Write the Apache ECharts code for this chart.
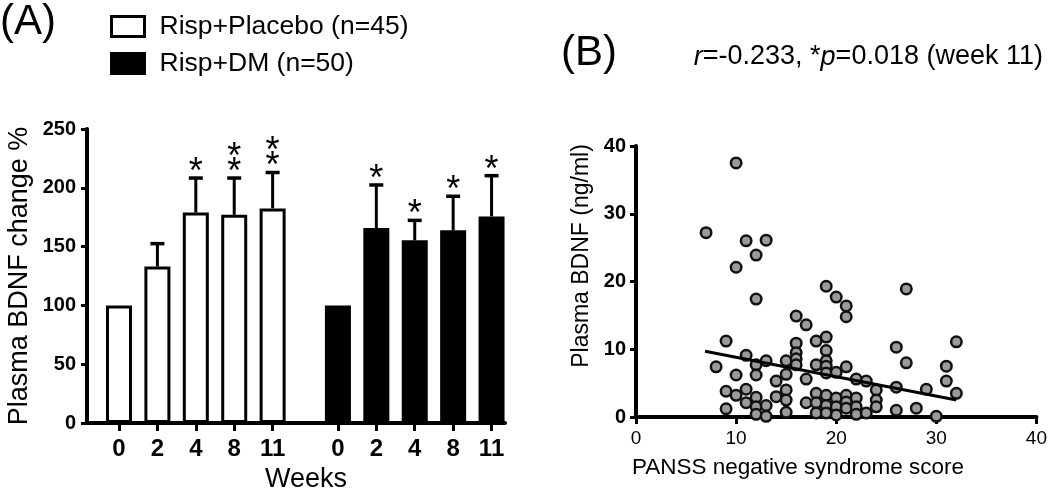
<!DOCTYPE html>
<html>
<head>
<meta charset="utf-8">
<script src="https://cdn.jsdelivr.net/npm/echarts@6/dist/echarts.min.js"></script>
<style>html,body{margin:0;padding:0;background:#fff}#c{width:1050px;height:495px}</style>
</head>
<body>
<div id="c"></div>
<script>
// ---- Panel A data ----
const weekLabels = ['0', '2', '4', '8', '11'];
const placeboMean = [100, 133, 179, 177, 182.5];
const placeboErr = [0, 19.5, 29.3, 31.3, 30.5];
const placeboStars = [0, 0, 1, 2, 2];
const dmMean = [100, 165.8, 155.3, 163.8, 175.7];
const dmErr = [0, 36.6, 17, 29, 34.6];
const dmStars = [0, 1, 1, 1, 1];

// ---- Panel B data: [PANSS negative score, plasma BDNF ng/ml] ----
const panssScore = [10, 7, 11, 13, 12, 10, 12, 19, 20, 21, 21, 27, 16, 17,
  9, 8, 9, 9, 10, 10, 11, 11, 11, 12, 12, 12, 12, 12, 13, 13, 13, 14, 14,
  15, 15, 15, 15, 15, 16, 16, 16, 16, 17, 17, 18, 18, 18, 18, 18,
  19, 19, 19, 19, 19, 19, 19, 19, 20, 20, 20, 20, 21, 21, 21, 21,
  22, 22, 22, 22, 23, 23, 24, 24, 24, 26, 26, 26, 27, 28, 29, 30, 31, 31, 32, 32];
const bdnf = [37.5, 27.2, 26, 26.1, 23.9, 22.1, 17.4, 19.3, 17.7, 16.4, 14.8, 18.9, 14.9, 13.6,
  11.2, 7.4, 3.8, 1.2, 6.2, 3.2, 9.1, 4.1, 2.1, 7.7, 6.2, 2.9, 1.5, 0.4, 8.3, 1.7, 0.1, 5.3, 3.0,
  8.3, 6.3, 4.0, 2.5, 0.7, 10.9, 9.5, 8.6, 7.7, 5.6, 2.1, 11.2, 7.7, 3.5, 2.1, 0.6,
  11.8, 9.8, 8.3, 7.5, 6.5, 3.2, 1.7, 0.6, 6.6, 2.8, 1.5, 0.3, 7.4, 3.2, 2.2, 1.3,
  5.6, 2.8, 1.5, 0.4, 5.3, 0.6, 4.0, 2.5, 1.5, 10.3, 4.4, 1.0, 8.0, 1.3, 4.1, 0.1, 7.5, 5.3, 11.1, 3.5];
const fitLine = [[6.9, 9.7], [32, 2.5]];
const annotationR = '-0.233';
const annotationP = '0.018';

// ---- layout ----
const FONT = 'Liberation Sans, Arial, sans-serif';
const groupOffset = 5.7;
const posA = weekLabels.map((_, i) => i);
const posB = weekLabels.map((_, i) => i + groupOffset);
const allPos = posA.concat(posB);
const allLabels = weekLabels.concat(weekLabels);

const placeboBars = posA.map((x, i) => [x, placeboMean[i]]);
const dmBars = posB.map((x, i) => [x, dmMean[i]]);
const errData = posA.map((x, i) => [x, placeboMean[i], placeboErr[i], placeboStars[i]])
  .concat(posB.map((x, i) => [x, dmMean[i], dmErr[i], dmStars[i]]));
const scatterData = panssScore.map((x, i) => [x, bdnf[i]]);

function renderErr(params, api) {
  const x = api.value(0), m = api.value(1), e = api.value(2), n = api.value(3);
  const top = api.coord([x, m + e]);
  const base = api.coord([x, m]);
  const children = [];
  if (e > 0) {
    children.push({type: 'line', shape: {x1: base[0], y1: base[1], x2: top[0], y2: top[1]},
      style: {stroke: '#000', lineWidth: 3}});
    children.push({type: 'line', shape: {x1: top[0] - 7, y1: top[1], x2: top[0] + 7, y2: top[1]},
      style: {stroke: '#000', lineWidth: 3.5}});
  }
  for (let k = 0; k < n; k++) {
    const cy = top[1] - 14 - k * 15;
    children.push({type: 'text', style: {text: '*', x: top[0], y: cy + 9, textAlign: 'center',
      textVerticalAlign: 'middle', fontSize: 36, fontFamily: FONT, fill: '#000'}});
  }
  return {type: 'group', children};
}

const axisLineStyle = {color: '#000', width: 4};
const chart = echarts.init(document.getElementById('c'), null, {renderer: 'canvas'});
chart.setOption({
  backgroundColor: '#fff',
  animation: false,
  textStyle: {fontFamily: FONT, color: '#000'},
  legend: {
    orient: 'vertical', left: 105, top: 8, itemWidth: 33, itemHeight: 20, itemGap: 10,
    icon: 'rect',
    textStyle: {fontSize: 26.5, color: '#000', fontFamily: FONT, padding: [0, 0, 0, 10]},
    data: [
      {name: 'Risp+Placebo (n=45)', itemStyle: {color: '#fff', borderColor: '#000', borderWidth: 3}},
      {name: 'Risp+DM (n=50)', itemStyle: {color: '#000', borderColor: '#000', borderWidth: 3}}
    ]
  },
  grid: [
    {left: 87, top: 129, width: 418, height: 294},
    {left: 636, top: 146, width: 402, height: 271}
  ],
  xAxis: [
    {gridIndex: 0, type: 'value', min: -0.833, max: 10.05,
      splitLine: {show: false},
      axisLine: {onZero: false, lineStyle: axisLineStyle},
      axisTick: {customValues: allPos, length: 8, lineStyle: {color: '#000', width: 3}},
      axisLabel: {customValues: allPos, margin: 14, fontSize: 24, fontWeight: 'bold', color: '#000',
        formatter: v => { const i = allPos.findIndex(p => Math.abs(p - v) < 1e-6); return i >= 0 ? allLabels[i] : ''; }}
    },
    {gridIndex: 1, type: 'value', min: 0, max: 40, interval: 10,
      splitLine: {show: false},
      axisLine: {onZero: false, lineStyle: axisLineStyle},
      axisTick: {length: 7, lineStyle: {color: '#000', width: 3}},
      axisLabel: {margin: 12, fontSize: 19, color: '#000'}
    }
  ],
  yAxis: [
    {gridIndex: 0, type: 'value', min: 0, max: 250, interval: 50,
      splitLine: {show: false},
      axisLine: {show: true, onZero: false, lineStyle: axisLineStyle},
      axisTick: {show: true, length: 6, lineStyle: {color: '#000', width: 3}},
      axisLabel: {margin: 11, fontSize: 20, fontWeight: 'bold', color: '#000'}
    },
    {gridIndex: 1, type: 'value', min: 0, max: 40, interval: 10,
      splitLine: {show: false},
      axisLine: {show: true, onZero: false, lineStyle: axisLineStyle},
      axisTick: {show: true, length: 6, lineStyle: {color: '#000', width: 3}},
      axisLabel: {margin: 10, fontSize: 20, fontWeight: 'bold', color: '#000'}
    }
  ],
  series: [
    {name: 'Risp+Placebo (n=45)', type: 'bar', xAxisIndex: 0, yAxisIndex: 0, data: placeboBars,
      barWidth: 26, barGap: '-100%', itemStyle: {color: '#fff', borderColor: '#000', borderWidth: 3}, z: 2},
    {name: 'Risp+DM (n=50)', type: 'bar', xAxisIndex: 0, yAxisIndex: 0, data: dmBars,
      barWidth: 26, barGap: '-100%', itemStyle: {color: '#000', borderColor: '#000', borderWidth: 3}, z: 2},
    {type: 'custom', xAxisIndex: 0, yAxisIndex: 0, data: errData, renderItem: renderErr,
      encode: {x: 0, y: 1}, clip: false, z: 3},
    {type: 'scatter', xAxisIndex: 1, yAxisIndex: 1, data: scatterData, symbolSize: 10.5,
      itemStyle: {color: '#9a9a9a', borderColor: '#111', borderWidth: 2.5, opacity: 1}, z: 3},
    {type: 'line', xAxisIndex: 1, yAxisIndex: 1, data: fitLine, showSymbol: false, symbol: 'none',
      lineStyle: {color: '#000', width: 3}, z: 4}
  ],
  graphic: [
    {type: 'text', left: 0, top: 1, style: {text: '(A)', fontSize: 42, fontFamily: FONT, fill: '#000'}},
    {type: 'text', left: 561, top: 32, style: {text: '(B)', fontSize: 42, fontFamily: FONT, fill: '#000'}},
    {type: 'text', x: 20, y: 276, rotation: Math.PI / 2,
      style: {text: 'Plasma BDNF change %', fontSize: 27, fontFamily: FONT, fill: '#000',
        textAlign: 'center', textVerticalAlign: 'middle'}},
    {type: 'text', x: 306, y: 480,
      style: {text: 'Weeks', fontSize: 27, fontFamily: FONT, fill: '#000', textAlign: 'center', textVerticalAlign: 'middle'}},
    {type: 'text', x: 582, y: 256, rotation: Math.PI / 2,
      style: {text: 'Plasma BDNF (ng/ml)', fontSize: 23, fontFamily: FONT, fill: '#000',
        textAlign: 'center', textVerticalAlign: 'middle'}},
    {type: 'text', x: 798, y: 468,
      style: {text: 'PANSS negative syndrome score', fontSize: 22.5, fontFamily: FONT, fill: '#000',
        textAlign: 'center', textVerticalAlign: 'middle'}},
    {type: 'text', x: 1043, y: 57,
      style: {text: '{i|r}=' + annotationR + ', *{i|p}=' + annotationP + ' (week 11)', fontSize: 27, fontFamily: FONT, fill: '#000',
        textAlign: 'right', textVerticalAlign: 'middle',
        rich: {i: {fontStyle: 'italic', fontSize: 27, fontFamily: FONT}}}}
  ]
});
</script>
</body>
</html>
